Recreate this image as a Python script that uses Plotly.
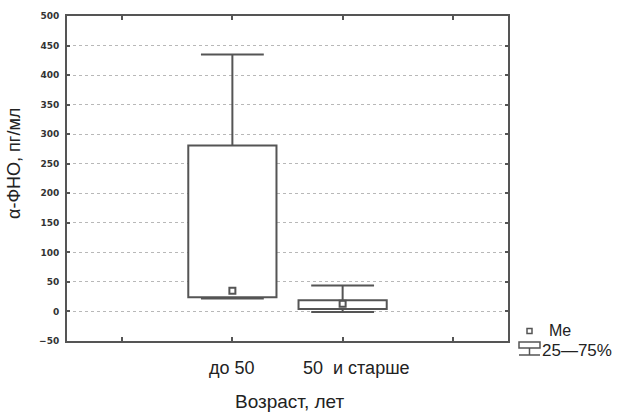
import plotly.graph_objects as go

# Box-and-whisker summary of alpha-TNF by age group
groups = ["до 50", "50  и старше"]
positions = [1, 2]
q1 = [24, 4]
q3 = [281, 19]
median = [35, 13]
whisker_low = [22, -1]
whisker_high = [435, 44]

y_ticks = list(range(-50, 501, 50))

LINE = "#555555"
TEXT = "#222222"
FONT = "Liberation Sans, Arial"
BOX_W = 0.8
CAP_HALF = 0.285

# figure and plot-area size in pixels (used to place the manual legend and titles)
W, H = 624, 414
ML, MR, MT, MB = 67, 116, 16, 73
PW, PH = W - ML - MR, H - MT - MB


def px(xp):
    return (xp - ML) / PW


def py(yp):
    return (H - MB - yp) / PH


fig = go.Figure()

# interquartile boxes
fig.add_trace(go.Bar(
    x=positions,
    base=q1,
    y=[b - a for a, b in zip(q1, q3)],
    width=BOX_W,
    marker=dict(color="white", line=dict(color=LINE, width=2)),
    showlegend=False,
    hoverinfo="skip",
))

# whiskers with caps
wx, wy = [], []
for x, lo, hi, a, b in zip(positions, whisker_low, whisker_high, q1, q3):
    wx += [x, x, None, x - CAP_HALF, x + CAP_HALF, None]
    wy += [b, hi, None, hi, hi, None]
    wx += [x, x, None, x - CAP_HALF, x + CAP_HALF, None]
    wy += [a, lo, None, lo, lo, None]
fig.add_trace(go.Scatter(
    x=wx, y=wy, mode="lines",
    line=dict(color=LINE, width=2),
    showlegend=False, hoverinfo="skip",
))

# medians
fig.add_trace(go.Scatter(
    x=positions, y=median, mode="markers",
    marker=dict(symbol="square-open", size=6, color=LINE, line=dict(width=2)),
    showlegend=False,
))

# category labels
for x, name in zip(positions, groups):
    fig.add_annotation(
        x=x, y=0, xref="x", yref="paper", yanchor="top", yshift=-15,
        xshift=0 if x == 1 else 14,
        text=name, showarrow=False,
        font=dict(family=FONT, size=18, color=TEXT),
    )

# axis titles
fig.add_annotation(
    x=px(290), y=py(402), xref="paper", yref="paper",
    xanchor="center", yanchor="middle",
    text="Возраст, лет", showarrow=False,
    font=dict(family=FONT, size=19, color=TEXT),
)
fig.add_annotation(
    x=px(14), y=py(164), xref="paper", yref="paper",
    xanchor="center", yanchor="middle", textangle=-90,
    text="α-ФНО, пг/мл", showarrow=False,
    font=dict(family=FONT, size=18, color=TEXT),
)

# legend: median marker and box/whisker key
shapes = [
    dict(type="rect", xref="paper", yref="paper",
         x0=px(527), x1=px(532), y0=py(333.5), y1=py(328.5),
         line=dict(color=LINE, width=1.5), fillcolor="white"),
    dict(type="rect", xref="paper", yref="paper",
         x0=px(519), x1=px(540), y0=py(348), y1=py(342),
         line=dict(color=LINE, width=1.5), fillcolor="white"),
    dict(type="line", xref="paper", yref="paper",
         x0=px(529.5), x1=px(529.5), y0=py(348), y1=py(355),
         line=dict(color=LINE, width=1.5)),
    dict(type="line", xref="paper", yref="paper",
         x0=px(519), x1=px(540), y0=py(355), y1=py(355),
         line=dict(color=LINE, width=1.5)),
]
fig.add_annotation(
    x=px(548), y=py(330), xref="paper", yref="paper",
    xanchor="left", yanchor="middle",
    text="Me", showarrow=False, borderpad=0,
    font=dict(family=FONT, size=16, color=TEXT),
)
fig.add_annotation(
    x=px(541), y=py(351), xref="paper", yref="paper",
    xanchor="left", yanchor="middle",
    text="25—75%", showarrow=False, borderpad=0,
    font=dict(family=FONT, size=17, color=TEXT),
)

fig.update_layout(
    width=W, height=H,
    margin=dict(l=ML, r=MR, t=MT, b=MB),
    paper_bgcolor="white", plot_bgcolor="white",
    shapes=shapes,
    showlegend=False,
    xaxis=dict(
        range=[-0.5, 3.5], tickvals=[0, 1, 2, 3], showticklabels=False,
        ticks="inside", ticklen=4, tickcolor=LINE, tickwidth=1.5,
        showline=True, linecolor=LINE, linewidth=2, mirror="ticks",
        showgrid=False, zeroline=False,
    ),
    yaxis=dict(
        range=[-50, 500], tickvals=y_ticks,
        ticks="inside", ticklen=3, tickcolor=LINE, tickwidth=1.5,
        showline=True, linecolor=LINE, linewidth=2, mirror="ticks",
        showgrid=True, gridcolor="#b8b8b8", gridwidth=1, griddash="dot",
        zeroline=False,
        tickfont=dict(family="DejaVu Sans", size=9, color="#333333", weight="bold"),
        ticklabelstandoff=4,
    ),
)

fig.write_html("out.html")
